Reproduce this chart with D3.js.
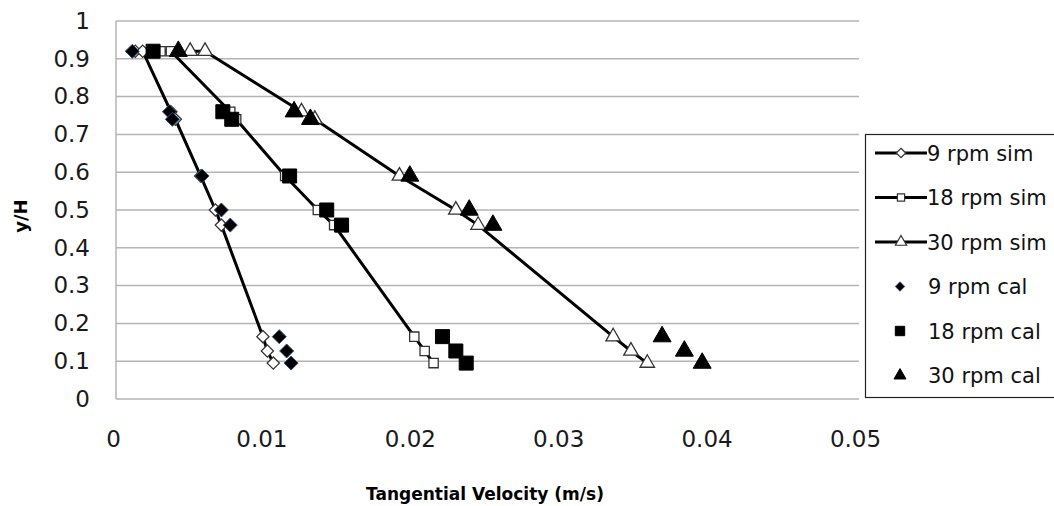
<!DOCTYPE html>
<html lang="en">
<head>
    <meta charset="UTF-8">
    <title>Tangential velocity</title>
    <style type="text/css">
        body { margin: 0; background: #fff; }
        svg { display: block; font-family: "DejaVu Sans", sans-serif; }
        .grid line { stroke: #b4b4b4; stroke-width: 1.5; }
        .simline { fill: none; stroke: #000; stroke-width: 3; }
        .tick text { fill: #1a1a1a; }
    </style>
</head>
<body>
    <svg></svg>

    <script src="https://d3js.org/d3.v7.min.js"></script>
    <script>
        // y/H levels (sim series have a second point at the top)
        var yCal = [0.92, 0.76, 0.74, 0.59, 0.50, 0.46, 0.165, 0.127, 0.095]
        var ySim = [0.92, 0.92, 0.76, 0.74, 0.59, 0.50, 0.46, 0.165, 0.127, 0.095]

        var sim9  = [0.0013, 0.0018, 0.0037, 0.0040, 0.0057, 0.0067, 0.0071, 0.0099, 0.0102, 0.0106]
        var sim18 = [0.0030, 0.0037, 0.0077, 0.0081, 0.0114, 0.0136, 0.0147, 0.0201, 0.0208, 0.0214]
        var sim30 = [0.0050, 0.0060, 0.0125, 0.0134, 0.0191, 0.0229, 0.0244, 0.0335, 0.0347, 0.0358]

        var cal9  = [0.0011, 0.0036, 0.0038, 0.0058, 0.0071, 0.0077, 0.0110, 0.0115, 0.0118]
        var cal18 = [0.0025, 0.0072, 0.0078, 0.0117, 0.0142, 0.0152, 0.0220, 0.0229, 0.0236]
        var cal30 = [0.0042, 0.0120, 0.0131, 0.0198, 0.0238, 0.0254, 0.0368, 0.0383, 0.0395]

        var xTicks = [0, 0.01, 0.02, 0.03, 0.04, 0.05]
        var yTicks = [0, 0.1, 0.2, 0.3, 0.4, 0.5, 0.6, 0.7, 0.8, 0.9, 1]

        var seriesNames = ['9 rpm sim', '18 rpm sim', '30 rpm sim', '9 rpm cal', '18 rpm cal', '30 rpm cal']

        var width = 1054
        var height = 506

        var svg = d3.select('svg')
            .attr('width', width)
            .attr('height', height)

        var x = d3.scaleLinear().domain([0, 0.05]).range([116, 858])
        var y = d3.scaleLinear().domain([0, 1]).range([399, 21])

        // gridlines
        svg.append('g')
            .attr('class', 'grid')
            .selectAll('line')
            .data(yTicks)
            .enter()
            .append('line')
            .attr('x1', x(0))
            .attr('x2', x(0.05) + 1)
            .attr('y1', function(d){ return y(d) })
            .attr('y2', function(d){ return y(d) })

        // y axis line
        svg.append('line')
            .attr('x1', x(0)).attr('x2', x(0))
            .attr('y1', y(1)).attr('y2', y(0))
            .attr('stroke', '#b4b4b4').attr('stroke-width', 1.5)

        var yAxis = svg.append('g')
            .attr('transform', 'translate(' + x(0) + ',0)')
            .call(d3.axisLeft(y).tickValues(yTicks).tickSize(0).tickPadding(26)
                .tickFormat(function(d){ return d3.format('~g')(d) }))
        yAxis.select('.domain').remove()
        yAxis.selectAll('text').attr('font-size', 23).attr('font-family', '"DejaVu Sans", sans-serif')

        var xAxis = svg.append('g')
            .attr('transform', 'translate(0,' + y(0) + ')')
            .call(d3.axisBottom(x).tickValues(xTicks).tickSize(0).tickPadding(32)
                .tickFormat(function(d){ return d3.format('~g')(d) }))
        xAxis.select('.domain').remove()
        xAxis.selectAll('text').attr('font-size', 23).attr('font-family', '"DejaVu Sans", sans-serif')
            .attr('dx', -3)

        // axis titles
        svg.append('text')
            .attr('x', 485).attr('y', 500)
            .attr('text-anchor', 'middle')
            .attr('font-size', 17).attr('font-weight', 'bold')
            .text('Tangential Velocity (m/s)')

        svg.append('text')
            .attr('transform', 'translate(27,216) rotate(-90)')
            .attr('text-anchor', 'middle')
            .attr('font-size', 18).attr('font-weight', 'bold')
            .text('y/H')

        var sym = {
            diamond: d3.symbol().type(d3.symbolDiamond2),
            square: d3.symbol().type(d3.symbolSquare2),
            triangle: d3.symbol().type(d3.symbolTriangle2)
        }
        var simStyle = [
            { data: sim9, shape: 'diamond', size: 95 },
            { data: sim18, shape: 'square', size: 110 },
            { data: sim30, shape: 'triangle', size: 150 }
        ]
        var calStyle = [
            { data: cal9, shape: 'diamond', size: 125, fill: '#000', stroke: '#2a4f7f' },
            { data: cal18, shape: 'square', size: 250, fill: '#000', stroke: '#000' },
            { data: cal30, shape: 'triangle', size: 230, fill: '#000', stroke: '#000' }
        ]

        var line = d3.line()
            .x(function(d){ return x(d[0]) })
            .y(function(d){ return y(d[1]) })

        simStyle.forEach(function(s){
            var pts = s.data.map(function(v, i){ return [v, ySim[i]] })
            svg.append('path').datum(pts).attr('class', 'simline').attr('d', line)
        })
        simStyle.forEach(function(s){
            var pts = s.data.map(function(v, i){ return [v, ySim[i]] })
            svg.append('g').selectAll('path')
                .data(pts)
                .enter()
                .append('path')
                .attr('d', sym[s.shape].size(s.size))
                .attr('transform', function(d){ return 'translate(' + x(d[0]) + ',' + y(d[1]) + ')' })
                .attr('fill', '#fff')
                .attr('stroke', '#333')
                .attr('stroke-width', 1.3)
        })
        calStyle.forEach(function(s){
            var pts = s.data.map(function(v, i){ return [v, yCal[i]] })
            svg.append('g').selectAll('path')
                .data(pts)
                .enter()
                .append('path')
                .attr('d', sym[s.shape].size(s.size))
                .attr('transform', function(d){ return 'translate(' + x(d[0]) + ',' + y(d[1]) + ')' })
                .attr('fill', s.fill)
                .attr('stroke', s.stroke)
                .attr('stroke-width', 1)
        })

        // legend
        var legend = svg.append('g')
        legend.append('rect')
            .attr('x', 865.5).attr('y', 134.5)
            .attr('width', 200).attr('height', 263)
            .attr('fill', '#fff').attr('stroke', '#222').attr('stroke-width', 1.2)

        var allStyle = simStyle.concat(calStyle)
        seriesNames.forEach(function(name, i){
            var cy = 153 + i * 44.5
            var g = legend.append('g').attr('transform', 'translate(0,' + cy + ')')
            if (i < 3) {
                g.append('line').attr('x1', 875).attr('x2', 927)
                    .attr('y1', 0).attr('y2', 0)
                    .attr('stroke', '#000').attr('stroke-width', 3)
                g.append('path')
                    .attr('d', sym[allStyle[i].shape].size(allStyle[i].size * 0.6))
                    .attr('transform', 'translate(901,0)')
                    .attr('fill', '#fff').attr('stroke', '#333').attr('stroke-width', 1.2)
            } else {
                g.append('path')
                    .attr('d', sym[allStyle[i].shape].size(allStyle[i].size * 0.45))
                    .attr('transform', 'translate(900,0)')
                    .attr('fill', allStyle[i].fill).attr('stroke', allStyle[i].stroke)
            }
            g.append('text')
                .attr('x', i < 3 ? 927 : 928).attr('y', 0).attr('dy', '0.36em')
                .attr('font-size', 21).attr('fill', '#111')
                .text(name)
        })
    </script>
</body>
</html>
